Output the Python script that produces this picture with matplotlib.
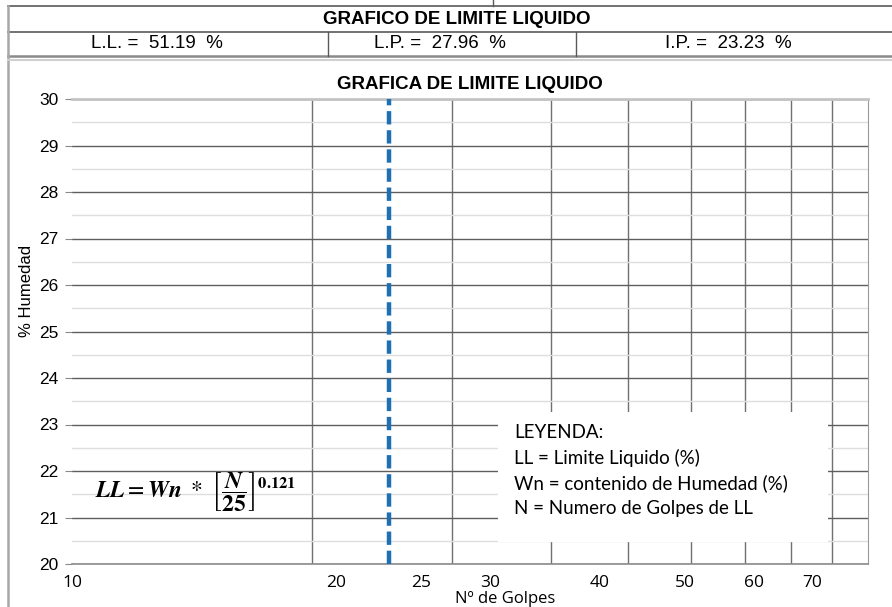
import numpy as np
import matplotlib
matplotlib.use("Agg")
import matplotlib.pyplot as plt
from matplotlib.ticker import MultipleLocator, NullLocator, FixedLocator
from matplotlib.patches import Rectangle
from matplotlib.lines import Line2D

# datos del ensayo
ll_val = 51.19
lp_val = 27.96
ip_val = 23.23
golpes_ref = 25
x_ticks = [10, 20, 25, 30, 40, 50, 60, 70]
x_grid = [20, 30, 40, 50, 60, 70, 80, 90]
y_ticks = list(range(20, 31))
leyenda = ["LEYENDA:",
           "LL = Limite Liquido (%)",
           "Wn = contenido de Humedad (%)",
           "N = Numero de Golpes de LL"]

W, H = 892, 607
fig = plt.figure(figsize=(W / 100, H / 100), dpi=100)
plt.rcParams['mathtext.fontset'] = 'stix'

def fx(px):
    return px / W

def fy(py):
    return 1 - py / H

narrow = ['Liberation Sans Narrow', 'Liberation Sans']

# cabecera tipo tabla
gray = '#5a5a5a'
for y0 in [6, 32]:
    fig.add_artist(Line2D([fx(8), 1], [fy(y0), fy(y0)], color=gray, lw=1.2))
fig.add_artist(Line2D([fx(8), 1], [fy(56), fy(56)], color='#8a8a8a', lw=1.8))
fig.add_artist(Line2D([fx(8), fx(8)], [fy(6), 0], color='#a8a8a8', lw=1.8))
for xc in [328, 576]:
    fig.add_artist(Line2D([fx(xc), fx(xc)], [fy(32), fy(56)], color=gray, lw=1.0))
fig.add_artist(Line2D([fx(493), fx(493)], [1, fy(6)], color=gray, lw=1.0))
fig.add_artist(Line2D([fx(8), 1], [fy(60), fy(60)], color='#d0d0d0', lw=1.5))

fig.text(fx(457), fy(19), "GRAFICO DE LIMITE LIQUIDO", ha='center', va='center',
         fontsize=13.5, fontweight='bold', family=narrow)
fig.text(fx(157), fy(44), "L.L. =  %.2f  %%" % ll_val, ha='center', va='center',
         fontsize=13.5, family=narrow)
fig.text(fx(440), fy(44), "L.P. =  %.2f  %%" % lp_val, ha='center', va='center',
         fontsize=13.5, family=narrow)
fig.text(fx(728), fy(44), "I.P. =  %.2f  %%" % ip_val, ha='center', va='center',
         fontsize=13.5, family=narrow)

# grafico
ax = fig.add_axes([fx(72), fy(564), fx(868) - fx(72), fy(99) - fy(564)])
ax.set_xscale('log')
ax.set_xlim(10, 100)
ax.set_ylim(20, 30)
ax.set_axisbelow(True)

ax.set_yticks(y_ticks)
ax.yaxis.set_minor_locator(MultipleLocator(0.5))
ax.tick_params(axis='y', which='major', length=5, color='#888888',
               labelsize=12.5, pad=5)
ax.tick_params(axis='y', which='minor', length=0)
for t in ax.get_yticklabels():
    t.set_family('Liberation Sans')
ax.grid(axis='y', which='major', color='#5e5e5e', lw=1.0)
ax.grid(axis='y', which='minor', color='#dedede', lw=1.0)

ax.xaxis.set_major_locator(NullLocator())
ax.xaxis.set_minor_locator(FixedLocator(x_grid))
ax.tick_params(axis='x', which='both', length=0, labelbottom=False)
ax.grid(axis='x', which='minor', color='#707070', lw=1.0)

ax.spines['left'].set_visible(False)
ax.spines['top'].set_color('#c4c4c4')
ax.spines['top'].set_linewidth(2)
ax.spines['right'].set_color('#9a9a9a')
ax.spines['bottom'].set_color('#8c8c8c')
ax.spines['bottom'].set_linewidth(1.2)

ax.axvline(golpes_ref, color='#1f6fb3', lw=3.2, dashes=(3.0, 1.3), zorder=3)

ax.set_title("GRAFICA DE LIMITE LIQUIDO", fontsize=13.5, fontweight='bold',
             family='Liberation Sans', pad=7)

# etiquetas del eje X (desplazadas como en la hoja de calculo)
ax2 = ax.twiny()
ax2.set_xscale('log')
ax2.set_xlim(10, 81)
ax2.xaxis.set_ticks_position('bottom')
ax2.xaxis.set_minor_locator(NullLocator())
ax2.set_xticks(x_ticks)
ax2.set_xticklabels([str(v) for v in x_ticks], family='Open Sans', fontsize=12.5)
ax2.tick_params(axis='x', length=0, pad=8)
for s in ax2.spines.values():
    s.set_visible(False)

fig.text(fx(505), fy(599), "Nº de Golpes", ha='center', va='center',
         fontsize=12, family='Open Sans')
fig.text(fx(27), fy(291), "% Humedad", ha='center', va='center', rotation=90,
         fontsize=12, family='Liberation Sans')

# formula
ax.text(0.155, 0.155,
        r'$\mathbfit{LL} = \mathbfit{Wn}\ *\ \left[\dfrac{\mathbfit{N}}{\mathbf{25}}\right]^{\mathbf{0.121}}$',
        transform=ax.transAxes, ha='center', va='center', fontsize=17)

# leyenda
ax.add_patch(Rectangle((0.535, 0.047), 0.415, 0.28, transform=ax.transAxes,
                       facecolor='white', edgecolor='none', zorder=2))
for i, linea in enumerate(leyenda):
    ax.text(0.555, 0.282 - i * 0.054, linea, transform=ax.transAxes,
            ha='left', va='center', fontsize=13.5, family='Lato', zorder=4)

fig.savefig("out.png", dpi=100)
